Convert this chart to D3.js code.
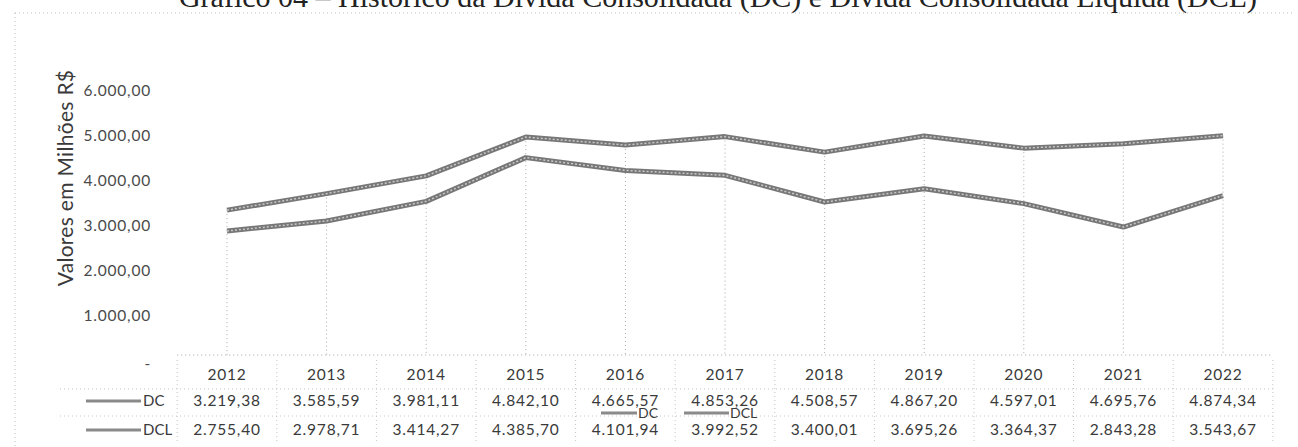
<!DOCTYPE html>
<html>
<head>
<meta charset="utf-8">
<script src="https://cdn.jsdelivr.net/npm/d3@7"></script>
<style>
body { margin: 0; background: #fff; }
svg text { font-family: Lato, "Open Sans", sans-serif; fill: #3a3a3a; }
</style>
</head>
<body>
<div id="visuals"></div>
<script>
/* global d3 */
var width = 1298;
var height = 447;

var years = ["2012", "2013", "2014", "2015", "2016", "2017", "2018", "2019", "2020", "2021", "2022"];
var dc_values = [3219.38, 3585.59, 3981.11, 4842.10, 4665.57, 4853.26, 4508.57, 4867.20, 4597.01, 4695.76, 4874.34];
var dcl_values = [2755.40, 2978.71, 3414.27, 4385.70, 4101.94, 3992.52, 3400.01, 3695.26, 3364.37, 2843.28, 3543.67];
var y_ticks = [0, 1000, 2000, 3000, 4000, 5000, 6000];
var series_names = ["DC", "DCL"];

var br = d3.formatLocale({decimal: ",", thousands: ".", grouping: [3], currency: ["R$", ""]});
var fmt = br.format(",.2f");

var svg = d3.select("#visuals").append("svg")
	.attr("width", width)
	.attr("height", height);

// faint frame of the scanned page
svg.append("line")
	.attr("x1", 15).attr("x2", 1292).attr("y1", 13).attr("y2", 13)
	.attr("stroke", "#bbb").attr("stroke-dasharray", "1,3");
svg.append("line")
	.attr("x1", 15).attr("x2", 15).attr("y1", 13).attr("y2", height)
	.attr("stroke", "#bbb").attr("stroke-dasharray", "1,3");

// title, top is cut off in the scan
svg.append("text")
	.attr("x", 718).attr("y", 7)
	.attr("text-anchor", "middle")
	.style("font-family", "'Liberation Serif', serif")
	.style("font-size", "30px")
	.style("fill", "#222")
	.text("Gráfico 04 – Histórico da Dívida Consolidada (DC) e Dívida Consolidada Líquida (DCL)");

var x = d3.scalePoint().domain(years).range([227, 1223]);
var step = x.step();
var y = d3.scaleLinear().domain([0, 6000]).range([355, 85]);

// y axis
var y_axis = svg.append("g")
	.attr("transform", "translate(151,0)")
	.call(d3.axisLeft(y).tickValues(y_ticks).tickSize(0)
		.tickFormat(function(d) { return d === 0 ? "-" : fmt(d); }));
y_axis.select(".domain").remove();
y_axis.selectAll("text")
	.attr("x", 0)
	.attr("dy", function(d) { return d === 0 ? "0.85em" : "0.7em"; })
	.style("font-family", "Lato, sans-serif")
	.style("font-size", "15.5px")
	.style("letter-spacing", "0.8px")
	.style("fill", "#4a4a4a");

svg.append("text")
	.attr("transform", "translate(66,178) rotate(-90)")
	.attr("text-anchor", "middle")
	.attr("dy", "0.35em")
	.style("font-size", "21px")
	.style("letter-spacing", "0.3px")
	.text("Valores em Milhões R$");

// drop lines
svg.append("g").selectAll("line")
	.data(years)
	.enter()
	.append("line")
	.attr("x1", function(d) { return x(d); })
	.attr("x2", function(d) { return x(d); })
	.attr("y1", function(d, i) { return y(dc_values[i]); })
	.attr("y2", y(0))
	.attr("stroke", "#aaa")
	.attr("stroke-dasharray", "1,3");

// x axis line
svg.append("line")
	.attr("x1", x(years[0]) - step / 2).attr("x2", x(years[years.length - 1]) + step / 2)
	.attr("y1", y(0)).attr("y2", y(0))
	.attr("stroke", "#aaa").attr("stroke-dasharray", "1,3");

var line = d3.line()
	.x(function(d, i) { return x(years[i]); })
	.y(function(d) { return y(d); });

[dc_values, dcl_values].forEach(function(vals) {
	svg.append("path")
		.attr("d", line(vals))
		.attr("fill", "none")
		.attr("stroke", "#777")
		.attr("stroke-width", 5)
		.attr("stroke-linejoin", "round");
	svg.append("path")
		.attr("d", line(vals))
		.attr("fill", "none")
		.attr("stroke", "#c8c8c8")
		.attr("stroke-width", 1.5)
		.attr("stroke-dasharray", "2,2");
});

// data table
var row_y = [375, 401, 430];
var table = svg.append("g");
var cell_style = function(sel) {
	sel.attr("dy", "0.35em")
		.attr("text-anchor", "middle")
		.style("font-size", "15.5px")
		.style("letter-spacing", "0.8px");
};

table.selectAll(".year")
	.data(years)
	.enter()
	.append("text")
	.attr("class", "year")
	.attr("x", function(d) { return x(d); })
	.attr("y", row_y[0])
	.call(cell_style)
	.text(function(d) { return d; });

[dc_values, dcl_values].forEach(function(vals, r) {
	table.selectAll(".val" + r)
		.data(vals)
		.enter()
		.append("text")
		.attr("class", "val" + r)
		.attr("x", function(d, i) { return x(years[i]); })
		.attr("y", row_y[r + 1])
		.call(cell_style)
		.text(function(d) { return fmt(d); });

	// legend key in the row header
	table.append("line")
		.attr("x1", 86).attr("x2", 141)
		.attr("y1", row_y[r + 1]).attr("y2", row_y[r + 1])
		.attr("stroke", "#8a8a8a").attr("stroke-width", 3);
	table.append("text")
		.attr("x", 143).attr("y", row_y[r + 1])
		.attr("dy", "0.35em")
		.style("font-size", "15px")
		.text(series_names[r]);
});

// table grid (dotted)
var left = x(years[0]) - step / 2;
var right = x(years[years.length - 1]) + step / 2;
[389, 416].forEach(function(gy) {
	table.append("line")
		.attr("x1", 60).attr("x2", right)
		.attr("y1", gy).attr("y2", gy)
		.attr("stroke", "#c4c4c4").attr("stroke-dasharray", "1,3");
});
table.selectAll(".sep")
	.data(d3.range(years.length + 1))
	.enter()
	.append("line")
	.attr("class", "sep")
	.attr("x1", function(i) { return left + i * step; })
	.attr("x2", function(i) { return left + i * step; })
	.attr("y1", 360).attr("y2", 443)
	.attr("stroke", "#c4c4c4").attr("stroke-dasharray", "1,3");

// stray legend printed over the table
var stray = [{name: "DC", x1: 601, x2: 637}, {name: "DCL", x1: 684, x2: 729}];
stray.forEach(function(s) {
	table.append("line")
		.attr("x1", s.x1).attr("x2", s.x2)
		.attr("y1", 413).attr("y2", 413)
		.attr("stroke", "#8a8a8a").attr("stroke-width", 3);
	table.append("text")
		.attr("x", s.x2 + 1).attr("y", 413)
		.attr("dy", "0.35em")
		.style("font-size", "14px")
		.text(s.name);
});
</script>
</body>
</html>
